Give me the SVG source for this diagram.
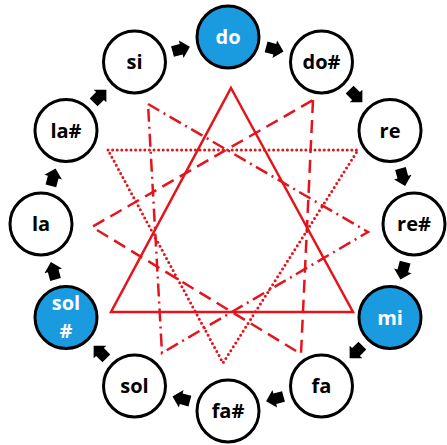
<svg xmlns="http://www.w3.org/2000/svg" width="447" height="445" viewBox="0 0 447 445">
  <style>
    .note circle { fill: #ffffff; stroke: #000000; stroke-width: 3; }
    .note.hi circle { fill: #1a9be0; }
    .note text { font-family: "Open Sans", "Liberation Sans", sans-serif; font-weight: bold; font-size: 20px; text-anchor: middle; fill: #000000; }
    .note.hi text { fill: #ffffff; }
    .tri { fill: none; stroke: #e3141b; stroke-width: 2.5; stroke-linejoin: miter; }
    .dash { stroke-dasharray: 13 7; }
    .dashdot { stroke-dasharray: 13 5 2 5; }
    .dot { stroke-dasharray: 0 4.6; stroke-linecap: round; stroke-width: 3; }
    .step { fill: #000000; }
  </style>
  <defs>
    <!-- block arrow pointing along +x, centred on origin -->
    <path id="blk" d="M-9,-5.5 H0 V-9 L9,0 L0,9 V5.5 H-9 Z"/>
  </defs>

  <!-- augmented triads -->
  <g id="triads">
    <polygon class="tri" points="231,88 353,312 111,312"/>
    <polygon class="tri dash" points="313,100 301,354 92,227"/>
    <polygon class="tri dot" points="108,150 358,150 223,363"/>
    <polygon class="tri dashdot" points="148,104 368,232 162,353"/>
  </g>

  <!-- chromatic steps, clockwise -->
  <g id="connectors" class="step">
    <use href="#blk" transform="translate(274.8,49.2) rotate(15)"/>
    <use href="#blk" transform="translate(356.0,96.0) rotate(45)"/>
    <use href="#blk" transform="translate(402.8,177.2) rotate(75)"/>
    <use href="#blk" transform="translate(402.8,270.8) rotate(105)"/>
    <use href="#blk" transform="translate(356.0,352.0) rotate(135)"/>
    <use href="#blk" transform="translate(274.8,398.8) rotate(165)"/>
    <use href="#blk" transform="translate(181.2,398.8) rotate(195)"/>
    <use href="#blk" transform="translate(100.0,352.0) rotate(225)"/>
    <use href="#blk" transform="translate(53.2,270.8) rotate(255)"/>
    <use href="#blk" transform="translate(53.2,177.2) rotate(285)"/>
    <use href="#blk" transform="translate(100.0,96.0) rotate(315)"/>
    <use href="#blk" transform="translate(181.2,49.2) rotate(345)"/>
  </g>

  <!-- notes -->
  <g id="do" class="note hi"><circle cx="228" cy="37" r="31"/><text x="228" y="44">do</text></g>
  <g id="do-sharp" class="note"><circle cx="321.5" cy="62" r="31"/><text x="321.5" y="69">do#</text></g>
  <g id="re" class="note"><circle cx="390" cy="130.5" r="31"/><text x="390" y="137.5">re</text></g>
  <g id="re-sharp" class="note"><circle cx="414" cy="224" r="31"/><text x="414" y="231">re#</text></g>
  <g id="mi" class="note hi"><circle cx="390" cy="317.5" r="31"/><text x="390" y="324.5">mi</text></g>
  <g id="fa" class="note"><circle cx="321.5" cy="386" r="31"/><text x="321.5" y="393">fa</text></g>
  <g id="fa-sharp" class="note"><circle cx="228" cy="411" r="31"/><text x="228" y="418">fa#</text></g>
  <g id="sol" class="note"><circle cx="134.5" cy="386" r="31"/><text x="134.5" y="393">sol</text></g>
  <g id="sol-sharp" class="note hi"><circle cx="66" cy="317.5" r="31"/><text x="66" y="310">sol</text><text x="66" y="338">#</text></g>
  <g id="la" class="note"><circle cx="41" cy="224" r="31"/><text x="41" y="231">la</text></g>
  <g id="la-sharp" class="note"><circle cx="66" cy="130.5" r="31"/><text x="66" y="137.5">la#</text></g>
  <g id="si" class="note"><circle cx="134.5" cy="62" r="31"/><text x="134.5" y="69">si</text></g>
</svg>
